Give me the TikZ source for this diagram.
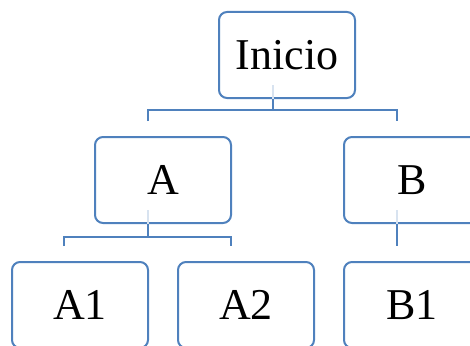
\documentclass[tikz,border=0pt]{standalone}
\usepackage{fontspec}
\setmainfont{Liberation Serif}
\definecolor{oblue}{RGB}{79,129,189}
\tikzset{
  box/.style={draw=oblue,line width=2pt,rounded corners=8pt,fill=white,
    minimum width=136pt,minimum height=86pt,font=\fontsize{44}{48}\selectfont},
  link/.style={draw=oblue,line width=2pt},
  fade/.style={draw=oblue!22,line width=2pt}
}

\begin{document}
\begin{tikzpicture}[x=1pt,y=-1pt]
    \clip (0,0) rectangle (470,345);
    % boxes, one row per level
    \node[box] (top) at (287,55)  {Inicio};
    \node[box] (A)   at (163,180) {A};
    \node[box] (B)   at (412,180) {B};
    \node[box] (A1)  at (80,305)  {A1};
    \node[box] (A2)  at (246,305) {A2};
    \node[box] (B1)  at (412,305) {B1};
    % elbow connectors, shifted left of the centres
    \draw[fade] ([xshift=-14pt,yshift=14pt]top.south) -- ([xshift=-14pt]top.south);
    \draw[link] ([xshift=-14pt]top.south) -- ([xshift=-14pt,yshift=-11pt]top.south);
    \draw[link] ([xshift=-15pt,yshift=15pt]A.north) |- ([xshift=-14pt,yshift=-11pt]top.south)
                -| ([xshift=-15pt,yshift=15pt]B.north);
    \draw[fade] ([xshift=-15pt,yshift=14pt]A.south) -- ([xshift=-15pt]A.south);
    \draw[link] ([xshift=-15pt]A.south) -- ([xshift=-15pt,yshift=-13pt]A.south);
    \draw[link] ([xshift=-16pt,yshift=15pt]A1.north) |- ([xshift=-15pt,yshift=-13pt]A.south)
                -| ([xshift=-15pt,yshift=15pt]A2.north);
    \draw[fade] ([xshift=-15pt,yshift=14pt]B.south) -- ([xshift=-15pt]B.south);
    \draw[link] ([xshift=-15pt]B.south) -- ([xshift=-15pt,yshift=15pt]B1.north);
\end{tikzpicture}
\end{document}
